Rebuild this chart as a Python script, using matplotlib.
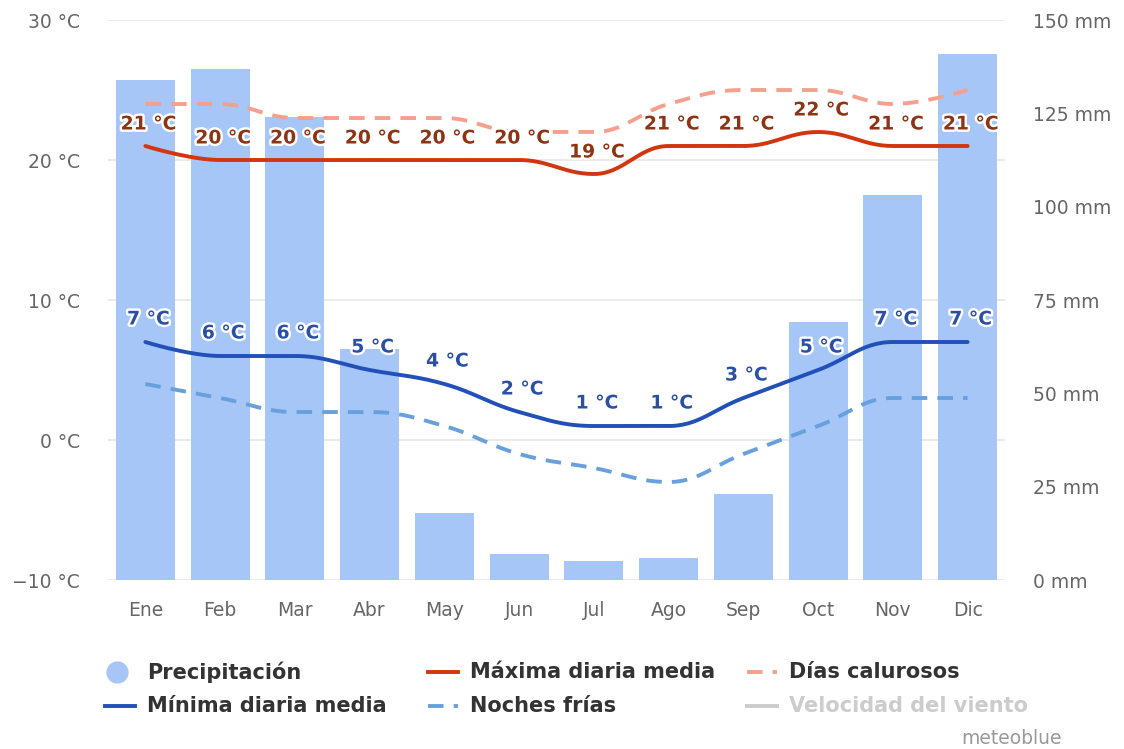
import numpy as np
import matplotlib
matplotlib.use("Agg")
import matplotlib.pyplot as plt
import matplotlib.patheffects as pe
from matplotlib.lines import Line2D

# Monthly climate values
months = ["Ene", "Feb", "Mar", "Abr", "May", "Jun", "Jul", "Ago", "Sep", "Oct", "Nov", "Dic"]
precip_mm = [134, 137, 124, 62, 18, 7, 5, 6, 23, 69, 103, 141]
max_temp = [21, 20, 20, 20, 20, 20, 19, 21, 21, 22, 21, 21]
hot_days = [24, 24, 23, 23, 23, 22, 22, 24, 25, 25, 24, 25]
min_temp = [7, 6, 6, 5, 4, 2, 1, 1, 3, 5, 7, 7]
cold_nights = [4, 3, 2, 2, 1, -1, -2, -3, -1, 1, 3, 3]

temp_ticks = [-10, 0, 10, 20, 30]
mm_ticks = [0, 25, 50, 75, 100, 125, 150]

C_BAR = "#a6c6f8"
C_MAX = "#d2350f"
C_HOT = "#f5a08c"
C_MIN = "#2150b9"
C_COLD = "#68a0dd"
C_GRID = "#e6e6e6"
C_TICK = "#666666"


def spline(xs, ys, smoothing=1.5, steps=30):
    # Highcharts-style spline: bezier segments with corrected control points
    xs = np.asarray(xs, float)
    ys = np.asarray(ys, float)
    n = len(xs)
    left = [(xs[i], ys[i]) for i in range(n)]
    right = [(xs[i], ys[i]) for i in range(n)]
    denom = smoothing + 1
    for i in range(1, n - 1):
        px, py = xs[i], ys[i]
        lx, ly = xs[i - 1], ys[i - 1]
        nx, ny = xs[i + 1], ys[i + 1]
        lcx = (smoothing * px + lx) / denom
        lcy = (smoothing * py + ly) / denom
        rcx = (smoothing * px + nx) / denom
        rcy = (smoothing * py + ny) / denom
        corr = ((rcy - lcy) * (rcx - px)) / (rcx - lcx) + py - rcy
        lcy += corr
        rcy += corr
        if lcy > ly and lcy > py:
            lcy = max(ly, py)
            rcy = 2 * py - lcy
        elif lcy < ly and lcy < py:
            lcy = min(ly, py)
            rcy = 2 * py - lcy
        if rcy > ny and rcy > py:
            rcy = max(ny, py)
            lcy = 2 * py - rcy
        elif rcy < ny and rcy < py:
            rcy = min(ny, py)
            lcy = 2 * py - rcy
        left[i] = (lcx, lcy)
        right[i] = (rcx, rcy)
    t = np.linspace(0, 1, steps)[:, None]
    out = [np.array([[xs[0], ys[0]]])]
    for i in range(1, n):
        p0 = np.array([xs[i - 1], ys[i - 1]])
        p1 = np.array(right[i - 1])
        p2 = np.array(left[i])
        p3 = np.array([xs[i], ys[i]])
        seg = ((1 - t) ** 3) * p0 + 3 * ((1 - t) ** 2) * t * p1 + 3 * (1 - t) * t ** 2 * p2 + t ** 3 * p3
        out.append(seg[1:])
    pts = np.vstack(out)
    return pts[:, 0], pts[:, 1]


fig = plt.figure(figsize=(11.24, 7.49), dpi=100)
ax = fig.add_axes([108 / 1124, 1 - 580 / 749, 897 / 1124, 560 / 749])
x = np.arange(len(months))

# temperature axis: grid + left labels
ax.set_xlim(-0.5, 11.5)
ax.set_ylim(-10, 30)
ax.set_yticks(temp_ticks)
ax.set_yticklabels([f"{v} °C".replace("-", "\u2212") for v in temp_ticks])
ax.grid(axis="y", color=C_GRID, lw=1.2)
ax.set_axisbelow(True)
ax.set_xticks(x)
ax.set_xticklabels(months)
ax.tick_params(axis="both", length=0, labelsize=13.5, colors=C_TICK, pad=15)
ax.tick_params(axis="y", pad=20)
for s in ax.spines.values():
    s.set_visible(False)

# precipitation bars on the right axis
ax2 = ax.twinx()
ax2.bar(x, precip_mm, width=0.79, color=C_BAR, zorder=2)
ax2.set_ylim(0, 150)
ax2.set_yticks(mm_ticks)
ax2.set_yticklabels([f"{v} mm" for v in mm_ticks])
ax2.tick_params(axis="y", length=0, labelsize=13.5, colors=C_TICK, pad=20)
for s in ax2.spines.values():
    s.set_visible(False)

# temperature lines on top
ax3 = ax.twinx()
ax3.set_ylim(-10, 30)
ax3.set_xlim(-0.5, 11.5)
ax3.axis("off")

sx, sy = spline(x, hot_days)
ax3.plot(sx, sy, color=C_HOT, lw=2.8, dashes=(4, 2.6))
sx, sy = spline(x, max_temp)
ax3.plot(sx, sy, color=C_MAX, lw=2.8, solid_capstyle="round")
sx, sy = spline(x, cold_nights)
ax3.plot(sx, sy, color=C_COLD, lw=2.8, dashes=(4, 2.6))
sx, sy = spline(x, min_temp)
ax3.plot(sx, sy, color=C_MIN, lw=2.8, solid_capstyle="round")

halo = [pe.withStroke(linewidth=3.5, foreground="white")]
for xi, v in zip(x, max_temp):
    ax3.annotate(f"{v} °C", (xi, v), xytext=(3, 22), textcoords="offset pixels",
                 ha="center", va="center", fontsize=13.5, fontweight="bold",
                 color="#8c3414", path_effects=halo)
for xi, v in zip(x, min_temp):
    ax3.annotate(f"{v} °C", (xi, v), xytext=(3, 23), textcoords="offset pixels",
                 ha="center", va="center", fontsize=13.5, fontweight="bold",
                 color="#2a4fa6", path_effects=halo)

# legend drawn in figure pixels
W, H = 1124, 749


def fx(px):
    return px / W


def fy(py):
    return 1 - py / H


legend_items = [
    ("circle", C_BAR, None, "Precipitación", 105, 672, "#333333"),
    ("line", C_MAX, None, "Máxima diaria media", 428, 672, "#333333"),
    ("line", C_HOT, (4, 2.6), "Días calurosos", 747, 672, "#333333"),
    ("line", C_MIN, None, "Mínima diaria media", 105, 706, "#333333"),
    ("line", C_COLD, (4, 2.6), "Noches frías", 428, 706, "#333333"),
    ("line", "#cccccc", None, "Velocidad del viento", 747, 706, "#cccccc"),
]
for kind, col, dash, label, px, py, tcol in legend_items:
    if kind == "circle":
        fig.add_artist(Line2D([fx(px + 12)], [fy(py)], marker="o", markersize=15,
                              color=col, lw=0, transform=fig.transFigure))
    else:
        ln = Line2D([fx(px), fx(px + 30)], [fy(py), fy(py)], color=col, lw=2.8,
                    transform=fig.transFigure)
        if dash:
            ln.set_dashes(dash)
        fig.add_artist(ln)
    fig.text(fx(px + 42), fy(py), label, ha="left", va="center", fontsize=15,
             fontweight="bold", color=tcol)

fig.text(fx(1062), fy(738), "meteoblue", ha="right", va="center", fontsize=13.5,
         color="#999999")

fig.savefig("out.png", dpi=100, facecolor="white")
